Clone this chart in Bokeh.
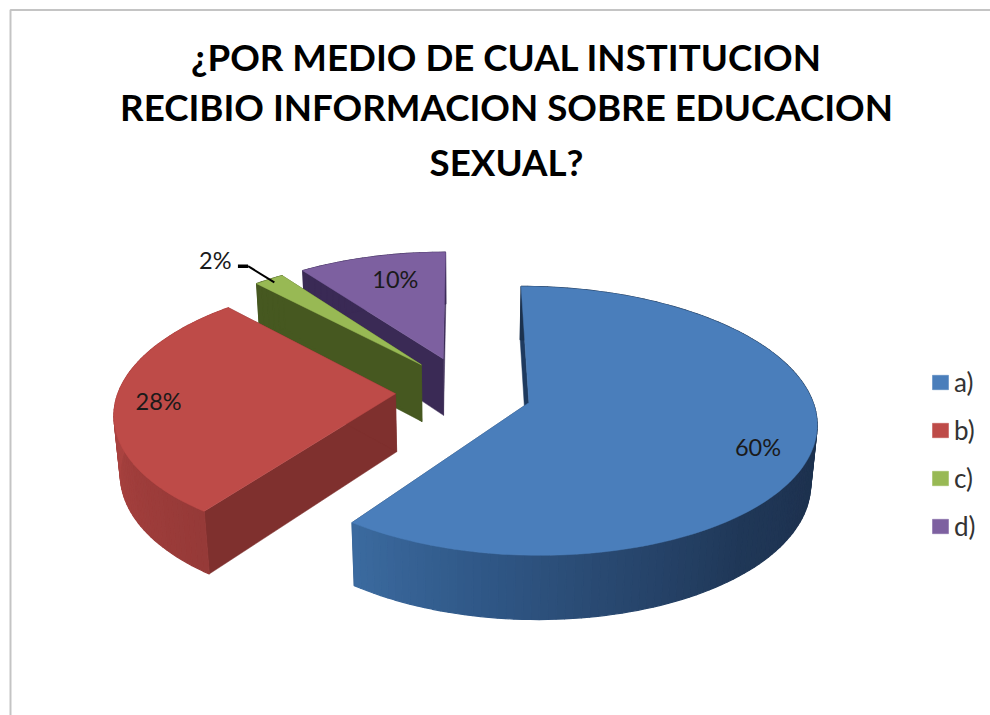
import numpy as np
from bokeh.plotting import figure
from bokeh.models import Range1d, Legend, LegendItem
from bokeh.core.properties import value
from bokeh.embed import file_html
from bokeh.resources import INLINE

# ---- data ----
categories = ["a)", "b)", "c)", "d)"]
shares = [60, 28, 2, 10]
title_lines = ["¿POR MEDIO DE CUAL INSTITUCION",
               "RECIBIO INFORMACION SOBRE EDUCACION",
               "SEXUAL?"]

# ---- styles ----
top_colors = ["#4A7EBB", "#BE4B48", "#98B954", "#7D60A0"]
cut_colors = ["#1E3A5F", "#7F302E", "#465820", "#3A2A55"]
rim_stops = [
    ([90, 115, 140, 170, 190, 216],
     [(28, 50, 78), (30, 50, 80), (32, 56, 88), (42, 74, 115), (48, 88, 135), (60, 107, 160)]),
    ([216, 240, 270], [(150, 58, 56), (160, 62, 60), (172, 68, 65)]),
    ([316, 325], [(70, 88, 32), (70, 88, 32)]),
    ([324, 360], [(58, 42, 85), (58, 42, 85)]),
]
FONT = "Lato"

# ---- 3D projection of the pie (image pixels) ----
CX, CY = 463.0, 391.0
RX_RIGHT, RX_LEFT, RY = 281.0, 277.0, 129.0
EXP_X, EXP_V = 68.0, 0.276
K, M, DEPTH = 0.134, 0.018, 59.0


def project(mid, ang, r, h=0.0):
    b, a = np.radians(mid), np.radians(ang)
    sa = np.sin(a)
    u = EXP_X * np.sin(b) + np.where(sa < 0, RX_LEFT, RX_RIGHT) * r * sa
    v = EXP_V * np.cos(b) + r * np.cos(a)
    w = 1 + K * v + M * h
    return CX + u / w, CY + (-RY * v + DEPTH * h) / w


p = figure(width=990, height=715, output_backend="svg", toolbar_location=None,
           x_range=Range1d(0, 990), y_range=Range1d(715, 0), min_border=0)
p.axis.visible = False
p.grid.visible = False
p.outline_line_color = None
p.background_fill_color = "white"

# chart frame
p.line([10, 10, 990], [715, 9.5, 9.5], line_color="#C4C4C4", line_width=2)

total = sum(shares)
edges = np.concatenate([[0], np.cumsum(shares)]) * 360.0 / total
mids = (edges[:-1] + edges[1:]) / 2

# back to front: d, c, b, a
order = [3, 2, 1, 0]
tops = {}
for i in order:
    a0, a1, mid = edges[i], edges[i + 1], mids[i]
    angs = np.linspace(a0, a1, max(6, int((a1 - a0) / 1.5)))
    # radial cut faces
    for ang in (a0, a1):
        x0, y0 = project(mid, ang, 0)
        x1, y1 = project(mid, ang, 1)
        x2, y2 = project(mid, ang, 1, 1)
        x3, y3 = project(mid, ang, 0, 1)
        p.patch([float(x0), float(x1), float(x2), float(x3)],
                [float(y0), float(y1), float(y2), float(y3)], fill_color=cut_colors[i],
                line_color=cut_colors[i], line_width=0.5)
    # outer rim, shaded along the arc
    stops_a, stops_c = rim_stops[i]
    stops_c = np.array(stops_c, dtype=float)
    xs, ys, cols = [], [], []
    for s, e in zip(angs[:-1], angs[1:]):
        xa, ya = project(mid, s, 1)
        xb, yb = project(mid, e, 1)
        xc, yc = project(mid, e, 1, 1)
        xd, yd = project(mid, s, 1, 1)
        xs.append([float(xa), float(xb), float(xc), float(xd)])
        ys.append([float(ya), float(yb), float(yc), float(yd)])
        c = [int(np.interp((s + e) / 2, stops_a, stops_c[:, k])) for k in range(3)]
        cols.append("#%02x%02x%02x" % tuple(c))
    p.patches(xs, ys, fill_color=cols, line_color=cols, line_width=1.2)
    # top face
    tx, ty = project(mid, angs, 1)
    ax, ay = project(mid, mid, 0)
    tops[i] = p.patch(np.r_[ax, tx], np.r_[ay, ty], fill_color=top_colors[i],
                      line_color=top_colors[i], line_width=0.5)

# data labels, placed on each slice in pie coordinates
label_place = [(113.0, 0.826), (266.4, 0.847), (317.6, 1.306), (344.3, 0.748)]
lx, ly, lt = [], [], []
for i, (ang, r) in enumerate(label_place):
    x, y = project(mids[i], ang, r)
    lx.append(float(x)); ly.append(float(y)); lt.append(f"{shares[i]}%")
p.text(lx, ly, text=lt, text_font=value(FONT), text_font_size="23.5px",
       text_color="#1a1a1a", text_align="center", text_baseline="middle")

# leader line of the c) label
lead = [(319.2, 1.193), (320.8, 1.167), (320.4, 0.963)]
lead_xy = [project(mids[2], a, r) for a, r in lead]
p.line([float(q[0]) for q in lead_xy[:2]], [float(q[1]) for q in lead_xy[:2]],
       line_color="black", line_width=3.5)
p.line([float(q[0]) for q in lead_xy[1:]], [float(q[1]) for q in lead_xy[1:]],
       line_color="black", line_width=2)

# title
p.text([506, 506, 506], [56, 106, 161], text=title_lines, text_font=value(FONT),
       text_font_style="bold", text_font_size="36.7px", text_color="black",
       text_align="center", text_baseline="middle")

legend = Legend(items=[LegendItem(label=categories[i], renderers=[tops[i]]) for i in range(4)],
                location=(930, 173), orientation="vertical",
                background_fill_alpha=0, border_line_color=None,
                glyph_width=20, glyph_height=18, label_standoff=4,
                label_text_font=FONT, label_text_font_size="26px", label_text_color="#333333",
                spacing=16, padding=0, margin=0)
p.add_layout(legend, "center")

open("out.html", "w").write(file_html(p, INLINE))
